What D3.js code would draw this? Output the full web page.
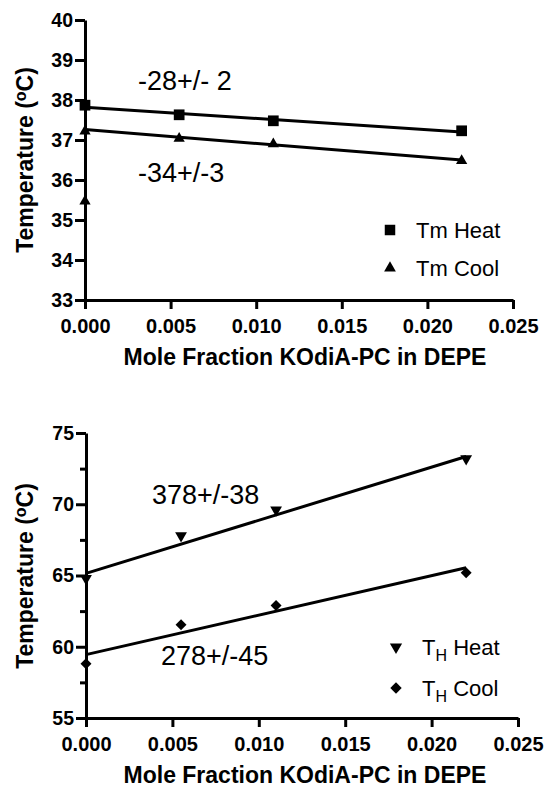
<!DOCTYPE html>
<html>
<head>
<meta charset="utf-8">
<script src="https://cdn.jsdelivr.net/npm/d3@7"></script>
<style>
  body { margin: 0; background: #fff; }
  .axis path, .axis line { stroke: #000; stroke-width: 3; }
  .axis text { font-family: "Liberation Sans", Arial, sans-serif; font-weight: bold; fill: #000; }
</style>
</head>
<body>
<svg id="chart" width="550" height="791"></svg>
<script>
// values
var xTicks = [0, 0.005, 0.010, 0.015, 0.020, 0.025];

// top panel: Tm
var tmTicks = [33, 34, 35, 36, 37, 38, 39, 40];
var tmHeat = [[0, 37.87], [0.0055, 37.63], [0.011, 37.48], [0.022, 37.23]];
var tmCool = [[0, 37.22], [0, 35.47], [0.0055, 37.04], [0.011, 36.9], [0.022, 36.48]];
var tmHeatFit = [[0, 37.82], [0.022, 37.2]];
var tmCoolFit = [[0, 37.26], [0.022, 36.5]];
var tmLabels = ["-28+/- 2", "-34+/-3"];

// bottom panel: TH
var thTicks = [55, 60, 65, 70, 75];
var thMinor = [57.5, 62.5, 67.5, 72.5];
var thHeat = [[0, 64.8], [0.0055, 67.8], [0.011, 69.6], [0.022, 73.2]];
var thCool = [[0, 58.8], [0.0055, 61.55], [0.011, 62.9], [0.022, 65.2]];
var thHeatFit = [[0, 65.15], [0.022, 73.35]];
var thCoolFit = [[0, 59.45], [0.022, 65.55]];
var thLabels = ["378+/-38", "278+/-45"];

var svg = d3.select("#chart");

function panel(opt) {
    var x = d3.scaleLinear().domain([0, 0.025]).range(opt.xr),
        y = d3.scaleLinear().domain(opt.yd).range(opt.yr);

    var g = svg.append("g");

    // fit lines
    var line = d3.line()
        .x(function (d) { return x(d[0]); })
        .y(function (d) { return y(d[1]); });
    opt.fits.forEach(function (f) {
        g.append("path")
            .attr("d", line(f))
            .attr("fill", "none")
            .attr("stroke", "#000")
            .attr("stroke-width", 3);
    });

    // points
    opt.series.forEach(function (s) {
        g.append("g").selectAll("path")
            .data(s.data)
            .enter().append("path")
            .attr("d", d3.symbol().type(s.type).size(s.size))
            .attr("transform", function (d) {
                return "translate(" + x(d[0]) + "," + y(d[1]) + ")" + (s.rot ? " rotate(" + s.rot + ")" : "");
            })
            .attr("fill", "#000");
    });

    // axes
    var ya = g.append("g")
        .attr("class", "axis")
        .attr("transform", "translate(" + opt.xr[0] + ",0)")
        .call(d3.axisLeft(y).tickValues(opt.yTicks).tickSizeInner(10).tickSizeOuter(0).tickPadding(2).tickFormat(d3.format("d")));
    ya.selectAll("text").style("font-size", "19.5px");

    if (opt.yMinor) {
        g.append("g")
            .attr("class", "axis")
            .attr("transform", "translate(" + opt.xr[0] + ",0)")
            .call(d3.axisLeft(y).tickValues(opt.yMinor).tickSizeInner(6).tickSizeOuter(0).tickFormat(""))
            .select(".domain").remove();
    }

    var xa = g.append("g")
        .attr("class", "axis")
        .attr("transform", "translate(0," + opt.yr[0] + ")")
        .call(d3.axisBottom(x).tickValues(xTicks).tickSizeInner(9).tickSizeOuter(0).tickPadding(10).tickFormat(d3.format(".3f")));
    xa.selectAll("text").style("font-size", "20px");

    // axis titles
    g.append("text")
        .attr("x", 305)
        .attr("y", opt.yr[0] + 65)
        .attr("text-anchor", "middle")
        .style("font", "bold 23px 'Liberation Sans', Arial, sans-serif")
        .text("Mole Fraction KOdiA-PC in DEPE");

    var yt = g.append("text")
        .attr("transform", "translate(33," + opt.titleY + ") rotate(-90)")
        .attr("text-anchor", "middle")
        .style("font", "bold 23px 'Liberation Sans', Arial, sans-serif");
    yt.append("tspan").text("Temperature (");
    yt.append("tspan").attr("dy", -7).style("font-size", "16px").text("o");
    yt.append("tspan").attr("dy", 7).text("C)");

    // slope annotations
    opt.notes.forEach(function (n) {
        g.append("text")
            .attr("x", n.x)
            .attr("y", n.y)
            .style("font", "27px 'Liberation Sans', Arial, sans-serif")
            .text(n.text);
    });

    // legend
    opt.series.filter(function (s) { return s.name; }).forEach(function (s, i) {
        var ly = opt.legY + i * opt.legStep;
        g.append("path")
            .attr("d", d3.symbol().type(s.type).size(s.legSize || s.size))
            .attr("transform", "translate(" + opt.legX + "," + ly + ")" + (s.rot ? " rotate(" + s.rot + ")" : ""))
            .attr("fill", "#000");
        var t = g.append("text")
            .attr("x", opt.legX + 26)
            .attr("y", ly + 8)
            .style("font", "22px 'Liberation Sans', Arial, sans-serif");
        if (s.sub) {
            t.append("tspan").text(s.name[0]);
            t.append("tspan").attr("dy", 6).style("font-size", "16px").text(s.sub);
            t.append("tspan").attr("dy", -6).text(" " + s.name[1]);
        } else {
            t.text(s.name);
        }
    });
}

panel({
    xr: [85, 513], yd: [33, 40], yr: [300, 20], yTicks: tmTicks,
    titleY: 160,
    fits: [tmHeatFit, tmCoolFit],
    series: [
        {data: tmHeat, type: d3.symbolSquare, size: 115, name: "Tm Heat", legSize: 110},
        {data: tmCool, type: d3.symbolTriangle, size: 55, name: "Tm Cool", legSize: 60}
    ],
    notes: [
        {x: 138, y: 90, text: tmLabels[0]},
        {x: 138, y: 182, text: tmLabels[1]}
    ],
    legX: 390, legY: 230, legStep: 38
});

panel({
    xr: [86, 518], yd: [55, 75], yr: [718, 433], yTicks: thTicks, yMinor: thMinor,
    titleY: 576,
    fits: [thHeatFit, thCoolFit],
    series: [
        {data: thHeat, type: d3.symbolTriangle, size: 60, rot: 180, name: ["T", "Heat"], sub: "H", legSize: 65},
        {data: thCool, type: d3.symbolSquare, size: 60, rot: 45, name: ["T", "Cool"], sub: "H", legSize: 65}
    ],
    notes: [
        {x: 152, y: 504, text: thLabels[0]},
        {x: 161, y: 665, text: thLabels[1]}
    ],
    legX: 396, legY: 647, legStep: 41
});
</script>
</body>
</html>
